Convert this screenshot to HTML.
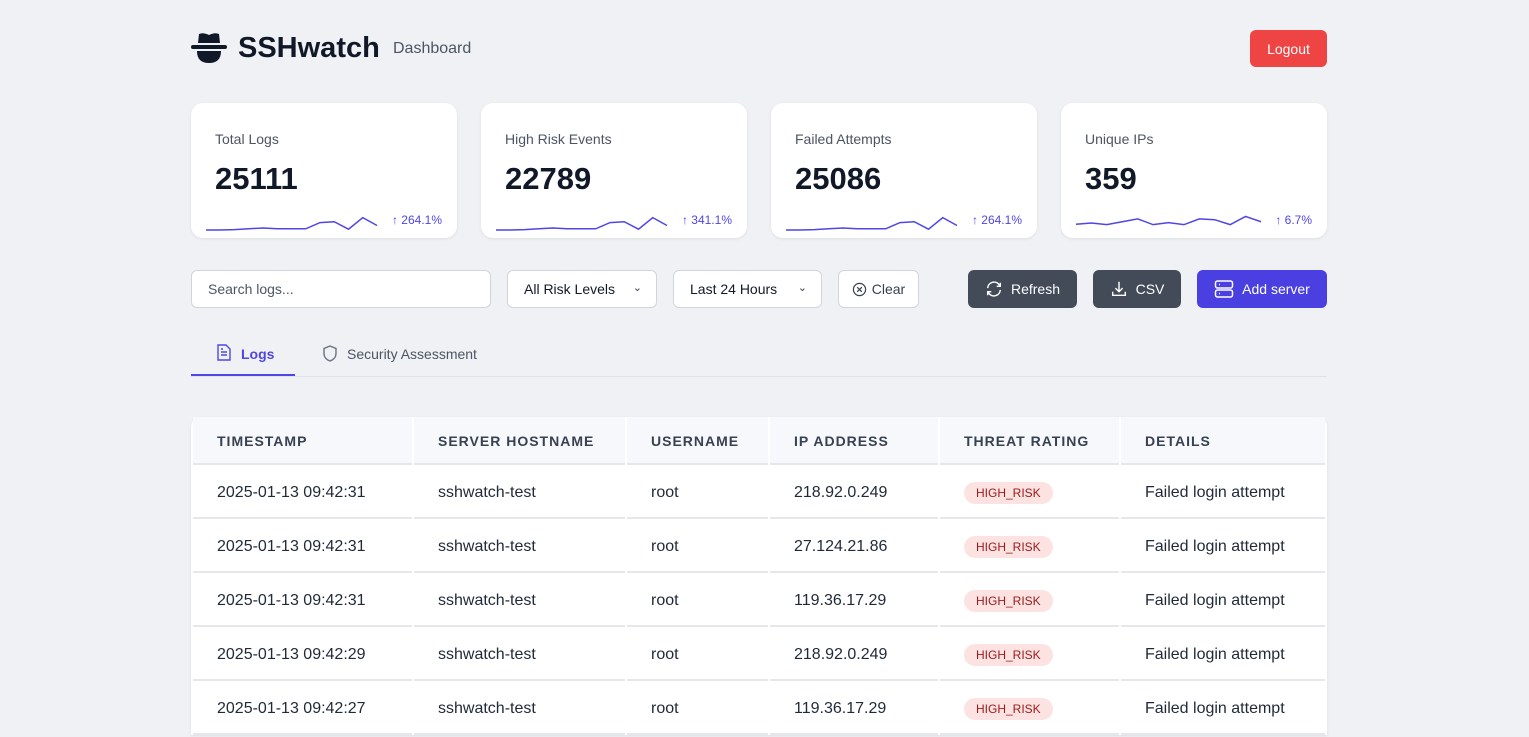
<!DOCTYPE html>
<html><head><meta charset="utf-8"><style>
*{box-sizing:border-box;margin:0;padding:0}
body{width:1529px;height:737px;overflow:hidden;background:#f0f1f5;font-family:"Liberation Sans",Arial,sans-serif;color:#111827;position:relative}
.abs{position:absolute}
.card{position:absolute;top:103px;width:266px;height:135px;background:#fff;border-radius:12px;box-shadow:0 1px 3px rgba(0,0,0,.08)}
.card .lbl{position:absolute;left:24px;top:28px;font-size:14px;color:#4b5563}
.card .val{position:absolute;left:24px;top:58px;font-size:31px;font-weight:bold;color:#111827}
.card .pct{position:absolute;right:15px;top:110px;font-size:12px;color:#4f46e5}
.card svg{position:absolute;left:14px;top:109px}
.ctl{position:absolute;top:270px;height:38px;background:#fff;border:1px solid #d1d5db;border-radius:6px;font-size:14px;color:#111827;display:flex;align-items:center}
.btn{position:absolute;top:270px;height:38px;border-radius:6px;color:#fff;font-size:14px;display:flex;align-items:center;justify-content:center;gap:8px}
table{position:absolute;left:191px;top:417px;width:1136px;border-collapse:separate;border-spacing:2px 0;background:#fff;border-radius:10px 10px 0 0;box-shadow:0 1px 3px rgba(0,0,0,.08)}
th{height:48px;background:#f7f8fb;text-align:left;padding-left:24px;padding-top:2px;font-size:14px;letter-spacing:1px;color:#374151;border-bottom:2px solid #e5e7eb}
td{height:54px;padding-left:24px;padding-top:4px;font-size:16px;color:#1f2937;border-bottom:2px solid #e5e7eb}
.badge{display:inline-block;background:#fde2e2;color:#991b1b;font-size:12px;padding:4px 12px;border-radius:11px}
</style></head><body>
<div class="abs" style="left:191px;top:32px">
<svg width="36" height="32" viewBox="0 0 36 32"><path d="M8 2 Q12 0 18 3 Q24 0 28 2 L29 11 L7 11 Z" fill="#111827"/><rect x="0" y="13" width="36" height="4" rx="2" fill="#111827"/><path d="M6 19 H30 Q30 31 18 31 Q6 31 6 19Z" fill="#111827"/></svg></div>
<div class="abs" style="left:238px;top:32px;font-size:29px;font-weight:bold;color:#111827">SSHwatch</div>
<div class="abs" style="left:393px;top:40px;font-size:16px;color:#4b5563">Dashboard</div>
<div class="btn" style="left:1250px;top:30px;width:77px;height:37px;background:#ef4444">Logout</div>

<div class="card" style="left:191px"><div class="lbl">Total Logs</div><div class="val">25111</div><svg width="175" height="20" id="sp0"></svg><div class="pct">↑ 264.1%</div></div>
<div class="card" style="left:481px"><div class="lbl">High Risk Events</div><div class="val">22789</div><svg width="175" height="20" id="sp1"></svg><div class="pct">↑ 341.1%</div></div>
<div class="card" style="left:771px"><div class="lbl">Failed Attempts</div><div class="val">25086</div><svg width="175" height="20" id="sp2"></svg><div class="pct">↑ 264.1%</div></div>
<div class="card" style="left:1061px"><div class="lbl">Unique IPs</div><div class="val">359</div><svg width="190" height="20" id="sp3"></svg><div class="pct">↑ 6.7%</div></div>

<div class="ctl" style="left:191px;width:300px;padding-left:16px;color:#4b5563">Search logs...</div>
<div class="ctl" style="left:507px;width:150px;padding-left:16px">All Risk Levels<span style="position:absolute;right:14px;top:10px;font-size:11px;color:#374151">&#8964;</span></div>
<div class="ctl" style="left:673px;width:149px;padding-left:16px">Last 24 Hours<span style="position:absolute;right:14px;top:10px;font-size:11px;color:#374151">&#8964;</span></div>
<div class="ctl" style="left:838px;width:81px;justify-content:center;gap:5px;color:#374151"><svg width="15" height="15" viewBox="0 0 16 16"><circle cx="8" cy="8" r="6.5" fill="none" stroke="#374151" stroke-width="1.3"/><path d="M5.5 5.5l5 5M10.5 5.5l-5 5" stroke="#374151" stroke-width="1.3"/></svg>Clear</div>
<div class="btn" style="left:968px;width:109px;background:#424b57"><svg width="18" height="18" viewBox="0 0 20 20" fill="none" stroke="#fff" stroke-width="1.6"><path d="M3 9a7 7 0 0 1 12.5-4L17 7M17 3v4h-4M17 11a7 7 0 0 1-12.5 4L3 13M3 17v-4h4"/></svg>Refresh</div>
<div class="btn" style="left:1093px;width:88px;background:#424b57"><svg width="18" height="18" viewBox="0 0 20 20" fill="none" stroke="#fff" stroke-width="1.6"><path d="M10 2v11M6 9l4 4 4-4M3 13v4h14v-4"/></svg>CSV</div>
<div class="btn" style="left:1197px;width:130px;background:#4a3fe0"><svg width="20" height="18" viewBox="0 0 20 18" fill="none" stroke="#fff" stroke-width="1.5"><rect x="1.5" y="1" width="17" height="7" rx="2"/><rect x="1.5" y="10" width="17" height="7" rx="2"/><path d="M5 4.5h1M5 13.5h1"/></svg>Add server</div>

<div class="abs" style="left:191px;top:340px;width:104px;height:36px;border-bottom:2px solid #4f46e5;color:#4f46e5;font-size:14px;font-weight:bold">
<svg style="position:absolute;left:26px;top:4px" width="14" height="17" viewBox="0 0 14 17" fill="none" stroke="#4f46e5" stroke-width="1.4"><path d="M1 1h8l4 4v11H1z M4 8h6M4 11h6M4 5h2"/></svg><span style="position:absolute;left:50px;top:6px">Logs</span></div>
<div class="abs" style="left:322px;top:345px;font-size:14px;color:#4b5563"><svg width="16" height="17" viewBox="0 0 16 17" fill="none" stroke="#6b7280" stroke-width="1.4" style="vertical-align:-3px;margin-right:9px"><path d="M8 1l6 2.5v5c0 4-3 6.5-6 7.5-3-1-6-3.5-6-7.5v-5z"/></svg>Security Assessment</div>
<div class="abs" style="left:191px;top:376px;width:1136px;height:1px;background:#e0e2e7"></div>

<table>
<thead><tr><th style="width:219px">TIMESTAMP</th><th style="width:211px">SERVER HOSTNAME</th><th style="width:141px">USERNAME</th><th style="width:168px">IP ADDRESS</th><th style="width:179px">THREAT RATING</th><th>DETAILS</th></tr></thead>
<tbody id="tb"></tbody></table>

<script>
const spark0=[0,0,0.1,0.3,0.5,0.3,0.3,0.3,1.8,2,0.2,3,1.1];
const spark1=[0,0,0.1,0.3,0.5,0.3,0.3,0.3,1.8,2,0.2,3,1.1];
const spark2=[0,0,0.1,0.3,0.5,0.3,0.3,0.3,1.8,2,0.2,3,1.1];
const spark3=[1.4,1.7,1.3,2,2.7,1.3,1.8,1.3,2.7,2.5,1.3,3.3,2];
const sparkMax=3.4;
const sparkWidths=[171,171,171,185];
[spark0,spark1,spark2,spark3].forEach((d,i)=>{
  const svg=document.getElementById('sp'+i);
  const w=sparkWidths[i];
  const x=j=>1+j*(w/(d.length-1));
  const y=v=>18-v/sparkMax*14;
  const p=document.createElementNS('http://www.w3.org/2000/svg','polyline');
  p.setAttribute('points',d.map((v,j)=>x(j)+','+y(v)).join(' '));
  p.setAttribute('fill','none');p.setAttribute('stroke','#4f46e5');p.setAttribute('stroke-width','1.5');
  
  
  svg.appendChild(p);
});
const times=["2025-01-13 09:42:31","2025-01-13 09:42:31","2025-01-13 09:42:31","2025-01-13 09:42:29","2025-01-13 09:42:27"];
const ips=["218.92.0.249","27.124.21.86","119.36.17.29","218.92.0.249","119.36.17.29"];
const tb=document.getElementById('tb');
times.forEach((t,i)=>{
  const tr=document.createElement('tr');
  
  
  tr.innerHTML='<td>'+t+'</td><td>sshwatch-test</td><td>root</td><td>'+ips[i]+'</td><td><span class="badge">HIGH_RISK</span></td><td>Failed login attempt</td>';
  tb.appendChild(tr);
});
</script>
</body></html>
